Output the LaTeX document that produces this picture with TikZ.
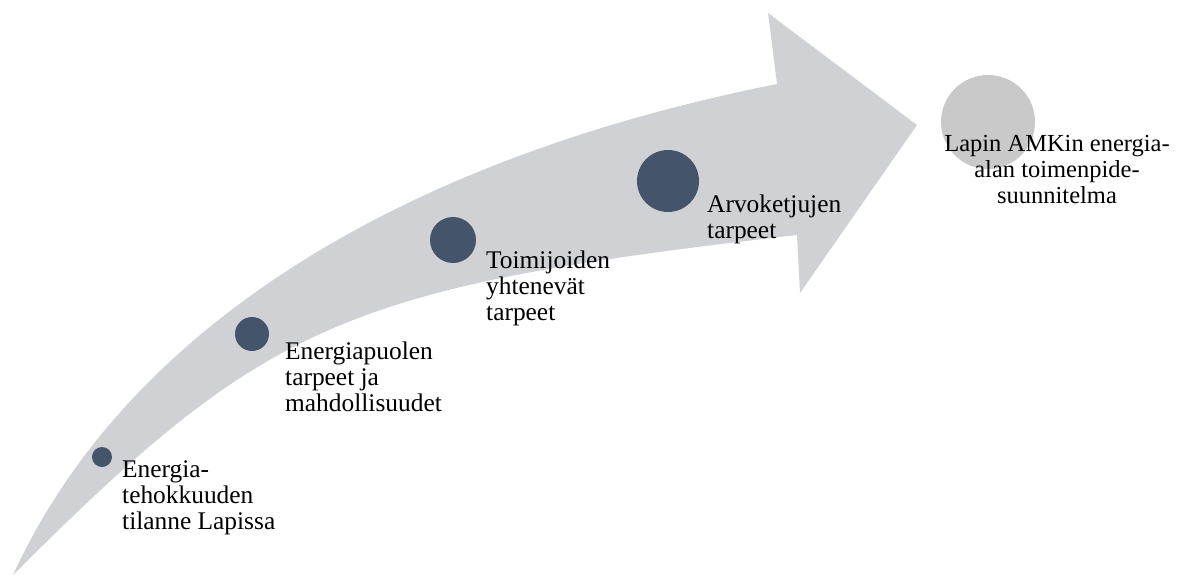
\documentclass[tikz,border=0pt]{standalone}
\usepackage{fontspec}
\setmainfont{Liberation Serif}
\definecolor{arrowgrey}{RGB}{208,209,213}
\definecolor{dotblue}{RGB}{68,84,106}
\definecolor{endgrey}{RGB}{201,201,201}
\begin{document}
\begin{tikzpicture}[x=1pt,y=-1pt,
  dot/.style={circle,fill=dotblue,draw=none,inner sep=0pt},
  enddot/.style={circle,fill=endgrey,draw=none,inner sep=0pt},
  lbl/.style={anchor=north west,align=left,inner sep=0pt,font=\fontsize{25.4}{26}\selectfont},
  endlbl/.style={anchor=north,align=center,inner sep=0pt,font=\fontsize{24.5}{26}\selectfont}]
\useasboundingbox (0,0) rectangle (1185,575);
% big curved arrow
\fill[arrowgrey]
  (13,575) .. controls (124,333) and (391,161) .. (777,84)
  -- (768,13) -- (917,125) -- (800,293) -- (797,235)
  .. controls (345,287) and (267,321) .. (13,575)
  -- cycle;
% dots
\node[dot,minimum size=20pt] (c1) at (102,457) {};
\node[dot,minimum size=34pt] (c2) at (252,334) {};
\node[dot,minimum size=46pt] (c3) at (453,240) {};
\node[dot,minimum size=62pt] (c4) at (668,181) {};
\node[enddot,minimum size=94pt] (c5) at (988,122) {};
% labels
\node[lbl] (t1) at (122,460) {Energia-\\tehokkuuden\\tilanne Lapissa};
\node[lbl] (t2) at (285,342) {Energiapuolen\\tarpeet ja\\mahdollisuudet};
\node[lbl] (t3) at (486,251) {Toimijoiden\\yhtenevät\\tarpeet};
\node[lbl] (t4) at (707,195) {Arvoketjujen\\tarpeet};
\node[endlbl] (t5) at (1057,135.5) {Lapin AMKin energia-\\alan toimenpide-\\suunnitelma};
\end{tikzpicture}
\end{document}
